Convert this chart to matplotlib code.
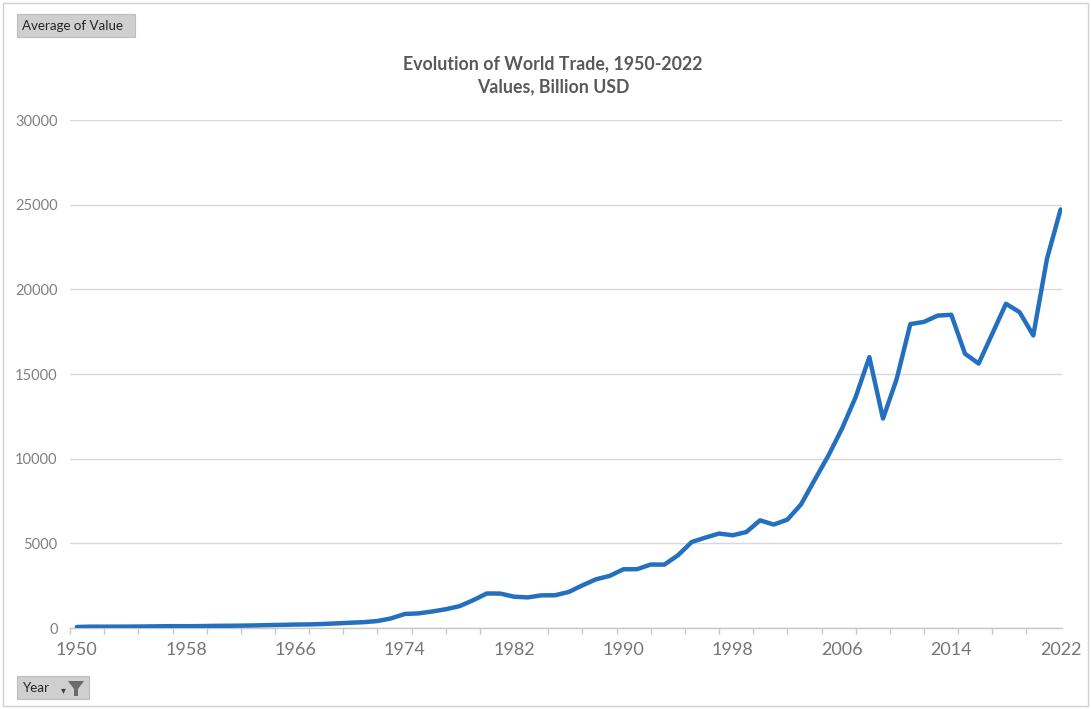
import numpy as np
import matplotlib
matplotlib.use("Agg")
from matplotlib import pyplot as plt
from matplotlib.patches import Rectangle, Polygon

years = list(range(1950, 2023))
values = [61, 82, 80, 82, 85, 93, 103, 111, 107, 114,
          128, 133, 141, 155, 173, 187, 205, 214, 239, 274,
          312, 346, 413, 570, 830, 865, 975, 1110, 1290, 1640,
          2040, 2035, 1850, 1810, 1930, 1935, 2130, 2520, 2880, 3080,
          3470, 3475, 3750, 3745, 4300, 5080, 5340, 5580, 5480, 5670,
          6360, 6110, 6400, 7300, 8750, 10180, 11780, 13640, 16000, 12370,
          14700, 17950, 18080, 18450, 18500, 16200, 15620, 17380, 19150, 18650,
          17280, 21800, 24720]
xticks = list(range(1950, 2023, 8))
yticks = [0, 5000, 10000, 15000, 20000, 25000, 30000]
title = "Evolution of World Trade, 1950-2022\nValues, Billion USD"

plt.rcParams['font.family'] = ['Lato', 'DejaVu Sans']

fig = plt.figure(figsize=(10.91, 7.09), dpi=100)
ax = fig.add_axes([0.0642, 0.1142, 0.9092, 0.7165])

ax.plot(years, values, color="#2470BE", linewidth=3.2, solid_capstyle="round",
        solid_joinstyle="round", zorder=3)

ax.set_xlim(1949.85, 2022.1)
ax.set_ylim(0, 30000)
ax.set_yticks(yticks)
ax.set_xticks(xticks)
ax.set_xticks(np.arange(2022, 1949, -2.5), minor=True)
ax.grid(axis="y", color="#d9d9d9", linewidth=1.0)
ax.set_axisbelow(True)
for s in ["top", "right", "left"]:
    ax.spines[s].set_visible(False)
ax.spines["bottom"].set_color("#c8c8c8")
ax.spines["bottom"].set_linewidth(1.0)
ax.tick_params(axis="y", length=0, pad=9, labelsize=10.5, labelcolor="#808080")
ax.tick_params(axis="x", which="major", length=0, pad=10, labelsize=13, labelcolor="#767676")
ax.tick_params(axis="x", which="minor", length=4, color="#c8c8c8", width=1.0)

fig.text(0.507, 0.894, title, ha="center", va="center", fontsize=12.8,
         fontweight="bold", color="#595959", linespacing=1.45)

# outer frame
fig.patches.append(Rectangle((0.003, 0.004), 0.994, 0.992, transform=fig.transFigure,
                             fill=False, edgecolor="#d0d0d0", linewidth=1.0))

# pivot field buttons
fig.patches.append(Rectangle((17 / 1091, 1 - 37 / 709), 118 / 1091, 23 / 709,
                             transform=fig.transFigure, facecolor="#cfcfcf",
                             edgecolor="#bdbdbd", linewidth=0.8))
fig.text(22 / 1091, 1 - 26 / 709, "Average of Value", ha="left", va="center",
         fontsize=9.6, color="#262626")

fig.patches.append(Rectangle((17 / 1091, 1 - 699 / 709), 72 / 1091, 23 / 709,
                             transform=fig.transFigure, facecolor="#cfcfcf",
                             edgecolor="#bdbdbd", linewidth=0.8))
fig.text(22 / 1091, 1 - 688 / 709, "Year", ha="left", va="center",
         fontsize=9.6, color="#262626")
fig.text(61 / 1091, 1 - 690 / 709, "▾", ha="left", va="center",
         fontsize=7, color="#404040", family=["DejaVu Sans"])
funnel = [(68, 681), (84, 681), (78, 689), (78, 696), (74, 696), (74, 689)]
fig.patches.append(Polygon([(x / 1091, 1 - y / 709) for x, y in funnel], closed=True,
                           transform=fig.transFigure, facecolor="#6b6b6b",
                           edgecolor="none"))

fig.savefig("out.png", dpi=100)
